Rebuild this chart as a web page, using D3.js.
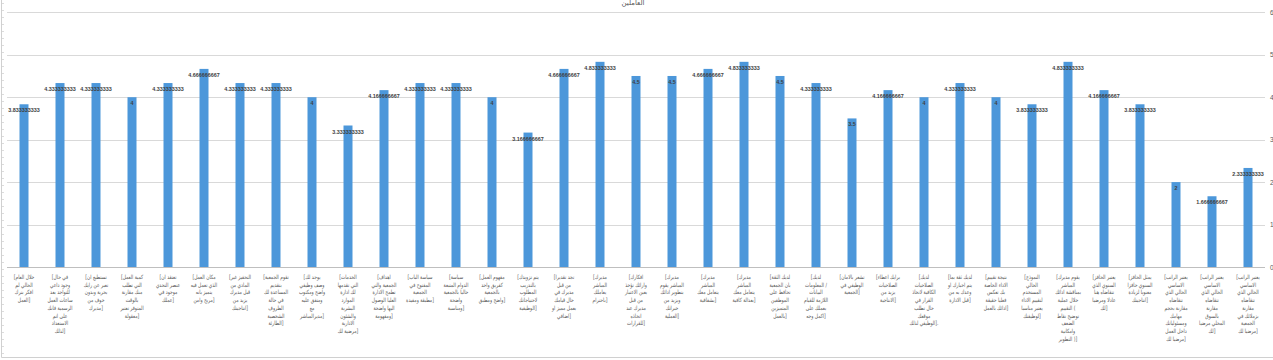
<!DOCTYPE html>
<html><head><meta charset="utf-8">
<script src="https://cdn.jsdelivr.net/npm/d3@7"></script>
<style>body{margin:0;background:#fff}svg{display:block}</style>
</head><body>
<svg id="c" width="1273" height="360"></svg>
<script>
const title = "العاملين";
const categories = [
"[خلال العام الحالي لم افكر بترك العمل]",
"[في حال وجود داعي للتواجد بعد ساعات العمل الرسمية فانك على اتم الاستعداد لذلك]",
"[تستطيع ان تعبر عن رايك بحرية وبدون خوف من مديرك]",
"[كمية العمل التي تطلب منك مقارنة بالوقت المتوفر تعتبر معقولة]",
"[تعتقد ان عنصر التحدي موجود في عملك]",
"[مكان العمل الذي تعمل فيه يتميز بانه مريح وامن]",
"[التحفيز غير المادي من قبل مديرك يزيد من انتاجيتك]",
"[تقوم الجمعية بتقديم المساعدة لك في حالة الظروف الشخصية الطارئة]",
"[يوجد لك وصف وظيفي واضح ومكتوب ومتفق عليه مع مديرالمباشر]",
"[الخدمات التي تقدمها لك ادارة الموارد البشرية والشئون الادارية مرضية لك]",
"[اهداف الجمعية والتي تطمح الادارة العليا الوصول اليها واضحة ومفهومة]",
"[سياسة الباب المفتوح في الجمعية مطبقة ومفيدة]",
"[سياسة الدوام المتبعة حاليا بالجمعية واضحة ومناسبة]",
"[مفهوم العمل كفريق واحد بالجمعية واضح ومطبق]",
"[يتم تزويدك بالتدريب المطلوب لاحتياجاتك الوظيفية]",
"[تجد تقديرا من قبل مديرك في حال قيامك بعمل مميز او اضافي]",
"[مديرك المباشر يعاملك باحترام]",
"[افكارك وارائك تؤخذ بعين الاعتبار من قبل مديرك عند اتخاذه للقرارات]",
"[مديرك المباشر يقوم بتطوير ادائك ويزيد من خبراتك العملية]",
"[مديرك المباشر يتعامل معك بشفافية]",
"[مديرك المباشر يتعامل معك بعدالة كافية]",
"[لديك الثقة بان الجمعية تحافظ على الموظفين المتميزين بالعمل]",
"[لديك المعلومات / البيانات اللازمة للقيام بعملك على اكمل وجه]",
"[تشعر بالامان الوظيفي في الجمعية]",
"[برايك اعطاء الصلاحيات يزيد من الانتاجية]",
"[لديك الصلاحيات الكافية لاتخاذ القرار في حال تطلب موقعك الوظيفي لذلك ].",
"[لديك ثقة بما يتم اخبارك او وعدك به من قبل الادارة]",
"[نتيجة تقييم الاداء الخاصة بك تعكس فعليا حقيقة ادائك بالعمل]",
"[النموذج الحالي المستخدم لتقييم الاداء يعتبر مناسبا لوظيفتك]",
"[يقوم مديرك المباشر بمناقشة ادائك خلال عملية التقييم ( توضيح نقاط الضعف وامكانية التطوير )]",
"[يعتبر الحافز السنوي الذي تتقاضاه هنا عادلا ومرضيا لك]",
"[يمثل الحافز السنوي حافزا معنويا لزيادة انتاجيتك]",
"[يعتبر الراتب الاساسي الحالي الذي تتقاضاه مقارنة بحجم مهامك ومسئولياتك داخل العمل مرضيا لك]",
"[يعتبر الراتب الاساسي الحالي الذي تتقاضاه مقارنة بالسوق المحلي مرضيا لك]",
"[يعتبر الراتب الاساسي الحالي الذي تتقاضاه مقارنة بزملائك في الجمعية مرضيا لك ]"
];
const values = [3.833333333,4.333333333,4.333333333,4,4.333333333,4.666666667,4.333333333,4.333333333,4,3.333333333,
4.166666667,4.333333333,4.333333333,4,3.166666667,4.666666667,4.833333333,4.5,4.5,4.666666667,
4.833333333,4.5,4.333333333,3.5,4.166666667,4,4.333333333,4,3.833333333,4.833333333,
4.166666667,3.833333333,2,1.666666667,2.333333333];
const valueLabels = ["3.833333333","4.333333333","4.333333333","4","4.333333333","4.666666667","4.333333333","4.333333333","4","3.333333333",
"4.166666667","4.333333333","4.333333333","4","3.166666667","4.666666667","4.833333333","4.5","4.5","4.666666667",
"4.833333333","4.5","4.333333333","3.5","4.166666667","4","4.333333333","4","3.833333333","4.833333333",
"4.166666667","3.833333333","2","1.666666667","2.333333333"];
const yTicks = [0,1,2,3,4,5,6];

const svg = d3.select("#c");
const pL = 6, pR = 1266, pT = 12.3, pB = 267;
const x = d3.scaleBand().domain(d3.range(categories.length)).range([pL, pR]).paddingInner(0.75).paddingOuter(0.375);
const y = d3.scaleLinear().domain([0, 6]).range([pB, pT]);

// frame
svg.append("line").attr("x1",1.5).attr("x2",1.5).attr("y1",0).attr("y2",357.5).attr("stroke","#d0d0d0");
svg.append("line").attr("x1",1.5).attr("x2",1273).attr("y1",357.5).attr("y2",357.5).attr("stroke","#d0d0d0");
svg.append("g").selectAll("line").data(d3.range(3, 357, 7)).join("line")
  .attr("x1",2).attr("x2",4).attr("y1",d=>d+0.5).attr("y2",d=>d+0.5).attr("stroke","#dcdcdc");

// gridlines
svg.append("g").selectAll("line").data(yTicks.filter(d=>d>0)).join("line")
  .attr("x1",7).attr("x2",1265).attr("y1",d=>Math.round(y(d))+0.5).attr("y2",d=>Math.round(y(d))+0.5)
  .attr("stroke","#d9d9d9").attr("stroke-width",1);

// right axis
const ax = svg.append("g").attr("transform",`translate(${pR},0)`)
  .call(d3.axisRight(y).tickValues(yTicks).tickSize(0).tickPadding(4).tickFormat(d3.format("d")));
ax.select(".domain").remove();
ax.selectAll("text").attr("fill","#595959").attr("font-size",6.5).attr("font-family","Liberation Sans, Arial, sans-serif");

// bars
svg.append("g").selectAll("rect").data(values).join("rect")
  .attr("x",(d,i)=>x(i)).attr("width",x.bandwidth())
  .attr("y",d=>y(d)).attr("height",d=>pB - y(d)).attr("fill","#4c97da");

// baseline
svg.append("line").attr("x1",7).attr("x2",1265).attr("y1",pB+0.5).attr("y2",pB+0.5).attr("stroke","#bfbfbf");

// value labels
svg.append("g").selectAll("text").data(values).join("text")
  .attr("x",(d,i)=>x(i)+x.bandwidth()/2).attr("y",d=>y(d)+8)
  .attr("text-anchor","middle").attr("font-size",5.4).attr("font-weight","bold")
  .attr("font-family","Liberation Sans, Arial, sans-serif").attr("fill","#404040")
  .text((d,i)=>valueLabels[i]);

// category labels (brackets placed explicitly so they sit left/right as in an LTR paragraph)
const maxW = 31, lh = 7.7, sx = 0.85;
const cg = svg.append("g").attr("font-family","DejaVu Sans Condensed, DejaVu Sans, sans-serif").attr("font-size",5.8).attr("fill","#595959").attr("text-anchor","middle");
const probe = cg.append("text").attr("visibility","hidden");
const measure = s => { probe.text(s); return s ? probe.node().getComputedTextLength() : 0; };
categories.forEach((c,i)=>{
  const cx = x(i)+x.bandwidth()/2;
  let body = c, pre = "", suf = "";
  let m = body.match(/^\[/); if (m) { pre = "["; body = body.slice(1); }
  m = body.match(/\s*(\]\.?)$/); if (m) { suf = m[1]; body = body.slice(0, body.length - m[0].length); }
  const words = body.trim().split(/\s+/);
  let lines = [], cur = [];
  words.forEach(w=>{
    const test = cur.concat([w]).join(" ");
    const extra = lines.length === 0 ? measure(pre) : 0;
    if (measure(test) + extra > maxW && cur.length) { lines.push(cur.join(" ")); cur=[w]; }
    else cur.push(w);
  });
  if (cur.length) lines.push(cur.join(" "));
  lines.forEach((l,k)=>{
    const p = k === 0 ? pre : "";
    const s = k === lines.length-1 ? suf : "";
    const bp = measure(p), bs = measure(s), w = measure(l);
    const T = bp + w + bs;
    const g = cg.append("g").attr("transform",`translate(${cx},${279 + k*lh}) scale(${sx},1)`);
    const x0 = -T/2;
    if (p) g.append("text").attr("x",x0 + bp/2).text(p);
    g.append("text").attr("x",x0 + bp + w/2).text(l);
    if (s) g.append("text").attr("x",x0 + bp + w + bs/2).text(s);
  });
});
probe.remove();

// title
svg.append("text").attr("x",633).attr("y",5).attr("text-anchor","middle")
  .attr("font-size",7).attr("font-family","DejaVu Sans, sans-serif").attr("fill","#595959").text(title);
</script>
</body></html>
